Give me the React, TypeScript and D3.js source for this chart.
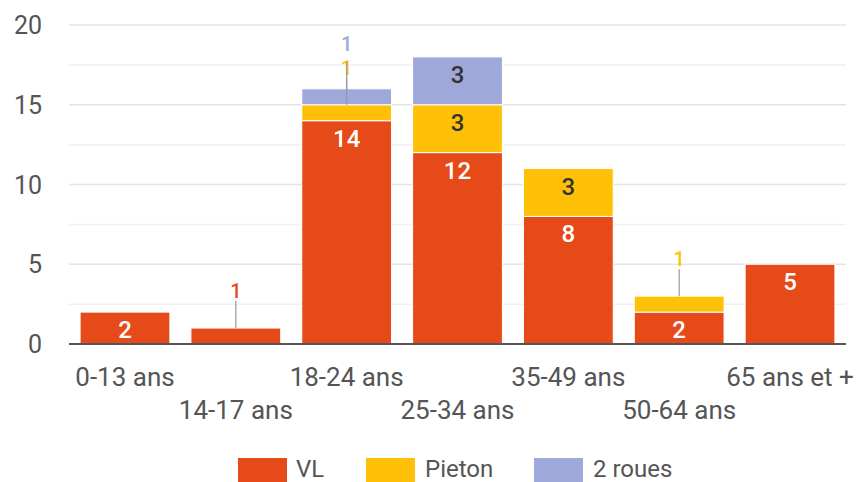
import React from "react";
import * as d3 from "d3";

const categories = ["0-13 ans", "14-17 ans", "18-24 ans", "25-34 ans", "35-49 ans", "50-64 ans", "65 ans et +"];
const vl = [2, 1, 14, 12, 8, 2, 5];
const pieton = [0, 0, 1, 3, 3, 1, 0];
const deuxRoues = [0, 0, 1, 3, 0, 0, 0];
const seriesNames = ["VL", "Pieton", "2 roues"];
const seriesColors = ["#e64a19", "#ffc107", "#9fa8da"];
const insideTextColors = ["#ffffff", "#333333", "#333333"];
const yTicks = [0, 5, 10, 15, 20];
const yMinorTicks = [2.5, 7.5, 12.5, 17.5];

const W = 858;
const H = 482;
const FONT = "Roboto, 'Noto Sans', sans-serif";

export default function App() {
  const rows = categories.map((c, i) => ({ cat: c, VL: vl[i], Pieton: pieton[i], "2 roues": deuxRoues[i] }));
  const stack = d3.stack<any>().keys(seriesNames)(rows);

  const x = d3.scaleBand<string>().domain(categories).range([69, 846]).paddingInner(0.19).paddingOuter(0.1);
  const y = d3.scaleLinear().domain([0, 20]).range([344, 25]);

  const bars: JSX.Element[] = [];
  const labels: JSX.Element[] = [];
  const lastOutside: Record<string, number> = {};

  stack.forEach((layer, si) => {
    layer.forEach((d, ci) => {
      const v = d[1] - d[0];
      if (v <= 0) return;
      const cat = categories[ci];
      const x0 = x(cat)!;
      const yTop = y(d[1]);
      const yBot = y(d[0]);
      bars.push(
        <rect key={`b${si}-${ci}`} x={x0} y={yTop} width={x.bandwidth()} height={yBot - yTop}
          fill={seriesColors[si]} stroke="#ffffff" strokeWidth={1} />
      );
      const cx = x0 + x.bandwidth() / 2;
      if (yBot - yTop >= 28) {
        labels.push(
          <text key={`l${si}-${ci}`} x={cx} y={yTop + 26} textAnchor="middle" fontFamily={FONT}
            fontSize={24} fontWeight={500} fill={insideTextColors[si]}>{v}</text>
        );
      } else {
        let base = yTop - 30;
        if (lastOutside[cat] !== undefined && base > lastOutside[cat] - 24) base = lastOutside[cat] - 24;
        lastOutside[cat] = base;
        labels.push(
          <g key={`o${si}-${ci}`}>
            <line x1={cx} x2={cx} y1={yTop} y2={yTop - 27} stroke="#999999" strokeWidth={1.2} />
            <text x={cx} y={base} textAnchor="middle" fontFamily={FONT} fontSize={20} fontWeight={500}
              fill={seriesColors[si]}>{v}</text>
          </g>
        );
      }
    });
  });

  const legendItems = [
    { name: "VL", sx: 238, tx: 296 },
    { name: "Pieton", sx: 366, tx: 425 },
    { name: "2 roues", sx: 534, tx: 593 },
  ];

  return (
    <div style={{ position: "absolute", left: 0, top: 0 }}>
      <svg width={W} height={H} style={{ display: "block", background: "#ffffff" }}>
        {yMinorTicks.map((t) => (
          <line key={`m${t}`} x1={69} x2={846} y1={y(t)} y2={y(t)} stroke="#f1f1f1" strokeWidth={1.5} />
        ))}
        {yTicks.filter((t) => t > 0).map((t) => (
          <line key={`g${t}`} x1={69} x2={846} y1={y(t)} y2={y(t)} stroke="#e4e4e4" strokeWidth={1.5} />
        ))}
        {yTicks.map((t) => (
          <text key={`y${t}`} x={42} y={y(t)} dy="0.36em" textAnchor="end" fontFamily={FONT} fontSize={25} fill="#555555">{t}</text>
        ))}
        {bars}
        <line x1={69} x2={846} y1={y(0)} y2={y(0)} stroke="#555555" strokeWidth={2} />
        {labels}
        {categories.map((c, i) => (
          <text key={`x${c}`} x={x(c)! + x.bandwidth() / 2} y={i % 2 === 0 ? 386 : 419} textAnchor="middle"
            fontFamily={FONT} fontSize={26} fill="#555555">{c}</text>
        ))}
        {legendItems.map((l, i) => (
          <g key={`lg${l.name}`}>
            <rect x={l.sx} y={458} width={49} height={26} fill={seriesColors[i]} />
            <text x={l.tx} y={477} fontFamily={FONT} fontSize={24} fill="#555555">{l.name}</text>
          </g>
        ))}
      </svg>
    </div>
  );
}
